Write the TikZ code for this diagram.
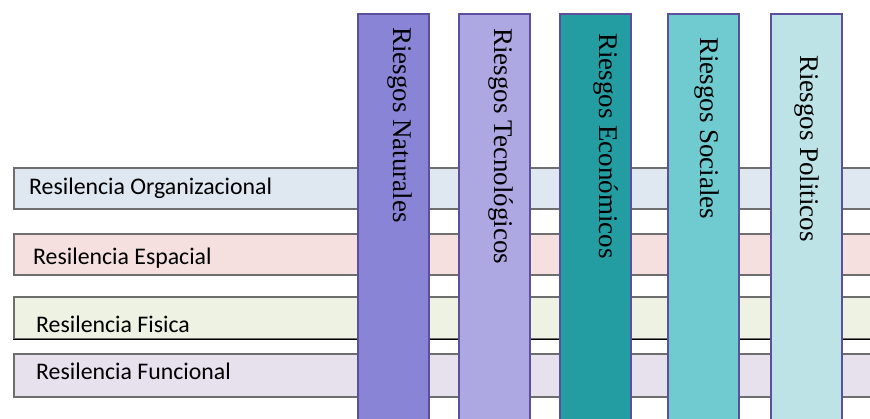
\documentclass[tikz,border=0pt]{standalone}
\usepackage{fontspec}
\usepackage{xcolor}
\usepackage{tikz}
\usetikzlibrary{positioning, calc}
\newfontfamily\resfont{Carlito}
\newfontfamily\riskfont{Liberation Serif}

\definecolor{orgfill}{HTML}{DFE7F1}
\definecolor{espfill}{HTML}{F5DFDF}
\definecolor{fisfill}{HTML}{EDF2E3}
\definecolor{funfill}{HTML}{E7E1EE}
\definecolor{natfill}{HTML}{8A84D6}
\definecolor{tecfill}{HTML}{AEA8E2}
\definecolor{ecofill}{HTML}{239CA2}
\definecolor{socfill}{HTML}{6FCBD0}
\definecolor{polfill}{HTML}{BDE3E6}
\definecolor{riskline}{HTML}{5B4F9E}
\definecolor{resline}{HTML}{6E6E6E}

\begin{document}
\begin{tikzpicture}[
    x=1pt, y=-1pt,
    resbar/.style={rectangle, draw=resline, line width=1.8pt, anchor=north west, minimum width=870pt, minimum height=41pt, inner sep=0pt},
    riskbar/.style={rectangle, draw=riskline, line width=1.8pt, anchor=north west, minimum width=71pt, minimum height=420pt, inner sep=0pt},
    reslabel/.style={anchor=base west, inner sep=0pt, text=black, font=\fontsize{23.8}{24}\selectfont\resfont},
    risklabel/.style={rotate=-90, anchor=base west, inner sep=0pt, text=black, font=\fontsize{27}{27}\selectfont\riskfont}
]
\useasboundingbox (0,0) rectangle (870,419);
\clip (0,0) rectangle (870,419);

% Resilience bars
\node[resbar, fill=orgfill] (org) at (13,167) {};
\node[resbar, fill=espfill] (esp) at (13,233) {};
\node[resbar, fill=fisfill, minimum height=42pt] (fis) at (13,296) {};
\draw[black, line width=1.2pt] (fis.south west) -- (fis.south east);
\node[resbar, fill=funfill, minimum height=43pt] (fun) at (13,353) {};

\node[reslabel] (orgtext) at (29,195) {Resilencia Organizacional};
\node[reslabel] (esptext) at (33,265) {Resilencia Espacial};
\node[reslabel] (fistext) at (36,333) {Resilencia Fisica};
\node[reslabel] (funtext) at (36,380) {Resilencia Funcional};

% Risk bars
\node[riskbar, fill=natfill] (nat) at (357,13) {};
\node[riskbar, fill=tecfill] (tec) at (458,13) {};
\node[riskbar, fill=ecofill] (eco) at (559,13) {};
\node[riskbar, fill=socfill] (soc) at (667,13) {};
\node[riskbar, fill=polfill] (pol) at (770,13) {};

\node[risklabel] (nattext) at (393,27) {Riesgos Naturales};
\node[risklabel] (tectext) at (494,28) {Riesgos Tecnológicos};
\node[risklabel] (ecotext) at (599,33) {Riesgos Económicos};
\node[risklabel] (soctext) at (700,37) {Riesgos Sociales};
\node[risklabel] (poltext) at (800,55) {Riesgos Politicos};

\end{tikzpicture}
\end{document}
